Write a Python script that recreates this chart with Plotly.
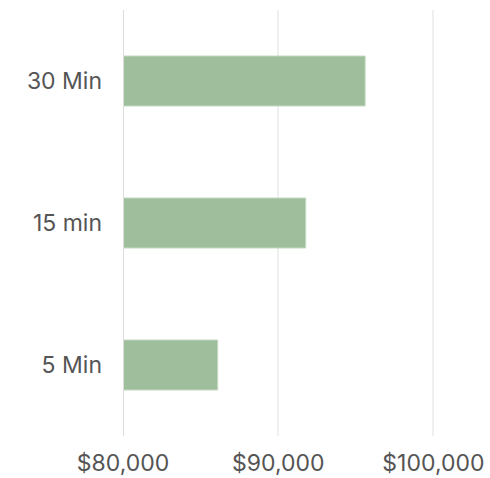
import plotly.graph_objects as go

categories = ["5 Min", "15 min", "30 Min"]
values = [86100, 91770, 95600]
tick_vals = [80000, 90000, 100000]
tick_text = ["$80,000", "$90,000", "$100,000"]

fig = go.Figure(go.Bar(
    x=values, y=categories, orientation="h", base=0,
    marker=dict(color="#9FBF9C", line=dict(color="#C4D8C2", width=1)),
))

fig.update_layout(
    width=490, height=478,
    margin=dict(l=123, r=10, t=10, b=42, autoexpand=False),
    plot_bgcolor="white", paper_bgcolor="white",
    bargap=0.648,
    showlegend=False,
    font=dict(family="Inter, sans-serif", size=23, color="#555555"),
)
fig.update_xaxes(
    range=[80000, 103000],
    tickvals=tick_vals, ticktext=tick_text,
    showgrid=True, gridcolor="#EFEFEF", gridwidth=2,
    zeroline=False, showline=False,
    automargin=False,
    ticklabelstandoff=11,
)
fig.update_yaxes(
    showgrid=False, zeroline=False,
    showline=False,
    automargin=False,
    ticklabelstandoff=20,
)
# left axis line at $80,000
fig.add_shape(type="line", xref="x", yref="paper", x0=80000, x1=80000, y0=0, y1=1,
              line=dict(color="#DCDCDC", width=2), layer="above")

fig.write_html("out.html")
